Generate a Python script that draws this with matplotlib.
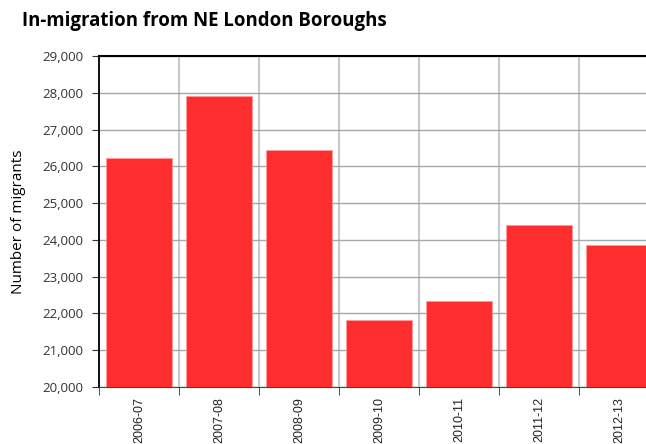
import matplotlib.pyplot as plt
import numpy as np

# in-migration counts
years = ['2006-07', '2007-08', '2008-09', '2009-10', '2010-11', '2011-12', '2012-13']
migrants = [26240, 27910, 26440, 21830, 22340, 24410, 23860]

W, H = 646, 444
fig = plt.figure(figsize=(W / 100, H / 100), dpi=100)

# plot area runs past the right edge like in the original
left, right, top, bottom = 99, 659, 56, 387
ax = fig.add_axes([left / W, 1 - bottom / H, (right - left) / W, (bottom - top) / H])

x = np.arange(len(years))
ax.bar(x, migrants, width=0.83, color='#ff2e2e', edgecolor='#ff9a9a', linewidth=0.6, zorder=3)

ax.set_xlim(-0.5, len(years) - 0.5)
ax.set_ylim(20000, 29000)
ax.set_yticks(np.arange(20000, 29001, 1000))
ax.set_yticklabels(['{:,}'.format(v) for v in range(20000, 29001, 1000)],
                   fontsize=9.5, family='Open Sans', color='#333333')

ax.set_xticks(x)
ax.set_xticklabels(years, rotation=90, fontsize=9, family='Liberation Sans', color='#222222')
ax.set_xticks(np.arange(-0.5, len(years)), minor=True)
ax.tick_params(axis='x', which='major', length=0, pad=7)
ax.tick_params(axis='x', which='minor', length=6, direction='out', color='#333333')
ax.tick_params(axis='y', length=5, direction='out', color='#333333', pad=6)

ax.grid(True, axis='y', color='#a8a8a8', linewidth=1, zorder=0)
ax.grid(True, axis='x', which='minor', color='#c8c8c8', linewidth=1.5, zorder=0)
ax.set_axisbelow(True)

ax.spines['right'].set_visible(False)
ax.spines['top'].set_linewidth(1.5)
ax.spines['left'].set_linewidth(1.3)
ax.spines['bottom'].set_color('#444444')

ax.set_ylabel('Number of migrants', fontsize=11, family='Open Sans', labelpad=12)

fig.text(22 / W, 1 - 21 / H, 'In-migration from NE London Boroughs', fontsize=13.4,
         fontweight='bold', family='Open Sans', va='center', ha='left')

fig.savefig('out.png', dpi=100)
